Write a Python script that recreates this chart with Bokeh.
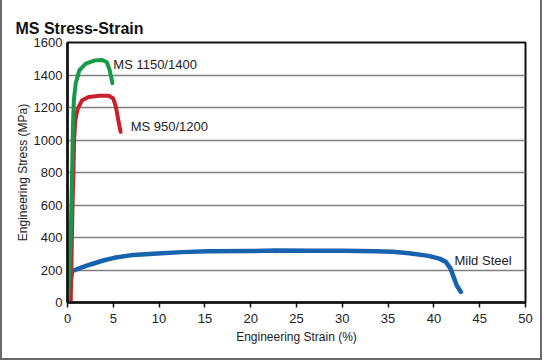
from bokeh.plotting import figure
from bokeh.embed import file_html
from bokeh.resources import INLINE
from bokeh.models import Range1d, FixedTicker, ColumnDataSource
from bokeh.core.properties import value

FONT = "Liberation Sans"

# data
ms1150_strain = [0.05, 0.35, 0.5, 0.6, 0.7, 0.9, 1.3, 2.0, 3.0, 3.8, 4.3, 4.6, 4.8, 4.9]
ms1150_stress = [0, 400, 800, 1100, 1250, 1350, 1430, 1470, 1490, 1492, 1478, 1430, 1380, 1350]

ms950_strain = [0.35, 0.55, 0.65, 0.72, 0.85, 1.1, 1.6, 2.3, 3.5, 4.5, 5.0, 5.3, 5.55, 5.8]
ms950_stress = [0, 600, 800, 1000, 1120, 1190, 1245, 1265, 1272, 1272, 1255, 1200, 1120, 1050]

mild_strain = [0, 0.5, 1.5, 2.5, 4, 5.1, 7.2, 9.8, 12.5, 15.3, 20, 22.7, 27, 30, 33.6, 35.5,
               37.3, 39.4, 40.6, 41.3, 41.8, 42.2, 42.5, 42.95]
mild_stress = [0, 193, 215, 234, 260, 275, 293, 302, 310, 316, 317, 320, 318, 318, 316, 312,
               303, 287, 270, 250, 210, 150, 105, 65]

label_text = ["MS 1150/1400", "MS 950/1200", "Mild Steel"]
label_x = [5.0, 6.9, 42.25]
label_y = [1466, 1083, 260]

x_ticks = [0, 5, 10, 15, 20, 25, 30, 35, 40, 45, 50]
y_ticks = [0, 200, 400, 600, 800, 1000, 1200, 1400, 1600]

p = figure(width=538, height=360, output_backend="svg", toolbar_location=None,
           x_range=Range1d(0, 50), y_range=Range1d(0, 1600),
           title="MS Stress-Strain",
           min_border_left=65, min_border_top=44, min_border_right=15, min_border_bottom=56,
           frame_width=458, frame_height=260)
p.styles = {"margin-left": "0px", "margin-top": "-4px", "border": "2px solid #6a6a6a"}

p.title.text_font = FONT
p.title.text_font_size = "16px"
p.title.text_font_style = "bold"
p.title.text_color = "#111111"
p.title.offset = -52
p.title.standoff = 11

p.outline_line_color = "#111111"
p.outline_line_width = 2

p.xgrid.grid_line_color = None
p.ygrid.ticker = FixedTicker(ticks=y_ticks)
p.ygrid.grid_line_color = "#808080"
p.ygrid.grid_line_width = 1.5

p.xaxis.ticker = FixedTicker(ticks=x_ticks)
p.yaxis.ticker = FixedTicker(ticks=y_ticks)
for ax in (p.xaxis[0], p.yaxis[0]):
    ax.axis_line_color = "#111111"
    ax.axis_line_width = 2.5
    ax.major_label_text_font = FONT
    ax.major_label_text_font_size = "13px"
    ax.major_label_text_color = "#222222"
    ax.axis_label_text_font = FONT
    ax.axis_label_text_font_size = "12px"
    ax.axis_label_text_font_style = "normal"
    ax.axis_label_text_color = "#222222"
    ax.minor_tick_line_color = None
    ax.major_tick_in = 0

p.xaxis.major_tick_out = 5
p.xaxis.major_tick_line_color = "#111111"
p.xaxis.major_tick_line_width = 1.5
p.xaxis.major_label_standoff = 6
p.xaxis.axis_label = "Engineering Strain (%)"
p.xaxis.axis_label_standoff = 4

p.yaxis.major_tick_out = 0
p.yaxis.major_tick_line_color = None
p.yaxis.major_label_standoff = 5
p.yaxis.axis_label = "Engineering Stress (MPa)"
p.yaxis.axis_label_standoff = 1

p.line(mild_strain, mild_stress, line_color="#1763ad", line_width=4.5, line_join="round", line_cap="round")
p.line(ms950_strain, ms950_stress, line_color="#c8202f", line_width=4, line_join="round", line_cap="round")
p.line(ms1150_strain, ms1150_stress, line_color="#16994a", line_width=4, line_join="round", line_cap="round")

src = ColumnDataSource(dict(x=label_x, y=label_y, t=label_text))
p.text(x="x", y="y", text="t", source=src, text_font=value(FONT), text_font_size="13px",
       text_color="#222222", text_align="left", text_baseline="middle")

open("out.html", "w").write(file_html(p, INLINE))
